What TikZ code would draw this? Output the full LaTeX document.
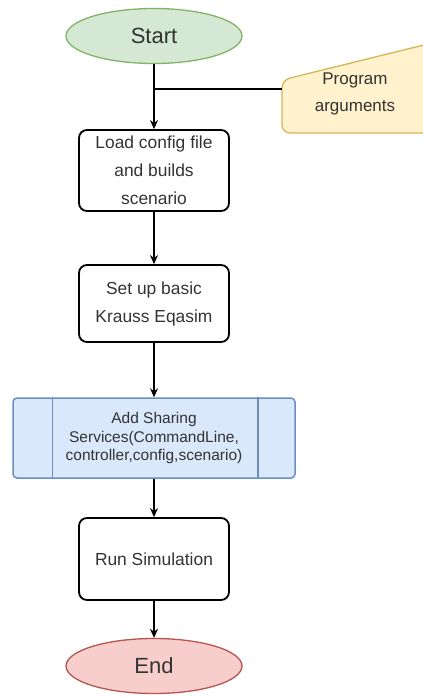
\documentclass[tikz,border=0pt]{standalone}
\usepackage{fontspec}
\setmainfont{Liberation Sans}
\usetikzlibrary{shapes.geometric,arrows.meta}

\definecolor{startfill}{HTML}{D5E8D4}
\definecolor{startline}{HTML}{82B366}
\definecolor{endfill}{HTML}{F8CECC}
\definecolor{endline}{HTML}{B85450}
\definecolor{argfill}{HTML}{FFF2CC}
\definecolor{argline}{HTML}{D6B656}
\definecolor{subfill}{HTML}{DAE8FC}
\definecolor{subline}{HTML}{6C8EBF}
\definecolor{txtgrey}{HTML}{333333}

\begin{document}
\begin{tikzpicture}[x=1pt,y=-1pt,
	terminal/.style={ellipse, line width=1.3pt, minimum width=176pt, minimum height=55pt, inner sep=0pt, text=txtgrey, font=\fontsize{22}{26}\selectfont},
	process/.style={draw=black, line width=1.8pt, rounded corners=8pt, minimum width=150pt, inner sep=0pt, align=center, text=txtgrey, font=\fontsize{17.4}{28}\selectfont},
	flow/.style={line width=1.2pt, -{Stealth[length=9pt,width=8pt]}}]
			\useasboundingbox (0,0) rectangle (423,697);
			% program arguments, cut off by the right edge
			\begin{scope}
				\clip (0,0) rectangle (423,697);
				\filldraw [fill=argfill, draw=argline, line width=1.3pt, rounded corners=8pt] (282,133)--(282,80)--(440,41)--(440,133)--cycle;
			\end{scope}
			\node (args) [align=center, text=txtgrey, font=\fontsize{17}{27}\selectfont] at (355,94) {Program\\arguments};
			\coordinate (argsin) at (282,89);
			\node (start) [terminal, draw=startline, fill=startfill] at (154,36) {Start};
			\node (load) [process, minimum height=81pt] at (154,170.5) {Load config file\\and builds\\scenario};
			\node (setup) [process, minimum height=77pt] at (154,303.5) {Set up basic\\Krauss Eqasim};
			\node (share) [draw=subline, fill=subfill, line width=1.5pt, rounded corners=4pt, minimum width=282pt, minimum height=80pt, inner sep=0pt, align=center, text=txtgrey, font=\fontsize{15.5}{18.5}\selectfont] at (154,438) {Add Sharing\\Services(CommandLine,\\controller,config,scenario)};
			\draw [subline, line width=1.5pt] ([xshift=40pt]share.north west)--([xshift=40pt]share.south west);
			\draw [subline, line width=1.5pt] ([xshift=-38pt]share.north east)--([xshift=-38pt]share.south east);
			\node (run) [process, minimum height=82pt] at (154,559) {Run Simulation};
			\node (end) [terminal, draw=endline, fill=endfill] at (154,666) {End};
			\draw [flow] (start)--(load);
			\draw [line width=1.2pt] (argsin)--(start.south |- argsin);
			\draw [flow] (load)--(setup);
			\draw [flow] (setup)--(share);
			\draw [flow] (share)--(run);
			\draw [flow] (run)--(end);
		\end{tikzpicture}
\end{document}
